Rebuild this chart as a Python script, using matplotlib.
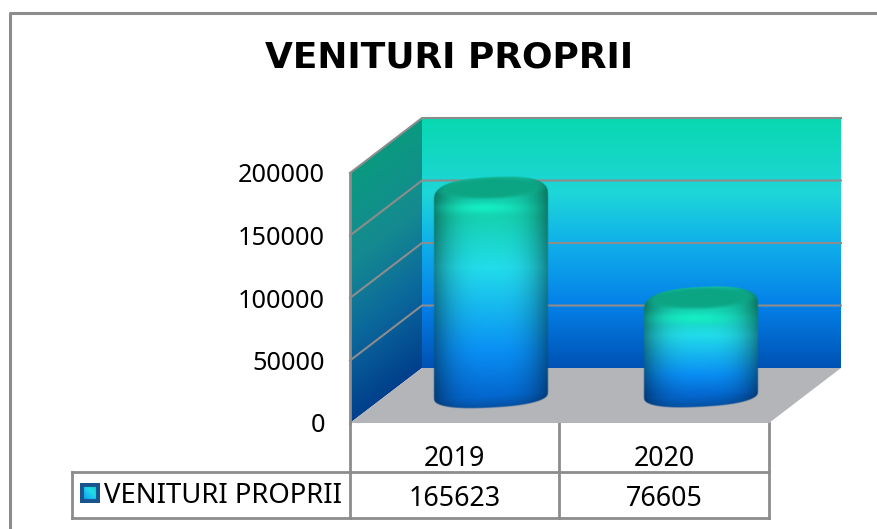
import matplotlib
matplotlib.use("Agg")
import matplotlib.pyplot as plt
import numpy as np
from matplotlib.colors import LinearSegmentedColormap
from matplotlib.patches import Polygon

# DATOS

categorias = ["2019", "2020"]
valores = [165623, 76605]
serie = "VENITURI PROPRII"
y_ticks = [0, 50000, 100000, 150000, 200000]

# CONFIGURACIÓN

W, H = 878, 529
FX0, FX1, FY0, FY1 = 350, 769, 423, 173  # plano frontal en pixeles
PX = (FX1 - FX0) / 2
PY = (FY0 - FY1) / 200000
DX = 72 / PX
DY = 55 / PY
GRIS = "#8c8c8c"
plt.rcParams["font.family"] = ["Noto Sans", "DejaVu Sans"]

cmap_fondo = LinearSegmentedColormap.from_list(
    "fondo",
    [(0, "#08d8b0"), (0.3, "#1ed6d8"), (0.5, "#10b0ea"), (0.75, "#0480e8"), (1, "#0052b4")],
)
cmap_lado = LinearSegmentedColormap.from_list(
    "lado",
    [(0, "#0a9a80"), (0.35, "#158a90"), (0.65, "#0c6a9c"), (1, "#003f8c")],
)
cmap_barra = LinearSegmentedColormap.from_list(
    "barra",
    [(0, "#12c8a4"), (0.15, "#16d2b4"), (0.38, "#22dcea"), (0.78, "#0a90f4"), (1, "#0468d0")],
)

fig = plt.figure(figsize=(W / 100, H / 100), dpi=100)

# capa en pixeles para marco y tabla
fondo = fig.add_axes([0, 0, 1, 1])
fondo.set_xlim(0, W)
fondo.set_ylim(H, 0)
fondo.axis("off")

ax = fig.add_axes([FX0 / W, 1 - FY0 / H, (FX1 - FX0) / W, (FY0 - FY1) / H])
ax.patch.set_alpha(0)
ax.set_xlim(0, 2)
ax.set_ylim(0, 200000)
for lado in ax.spines.values():
    lado.set_visible(False)
ax.set_xticks([])
ax.set_yticks(y_ticks)
ax.tick_params(axis="y", length=0, pad=18, labelsize=18.2)


def pared(extent, cmap, z, puntos):
    im = ax.imshow(z, extent=extent, cmap=cmap, aspect="auto", vmin=0, vmax=1,
                   zorder=1, interpolation="bilinear")
    forma = Polygon(puntos, transform=ax.transData, fc="none", ec="none", clip_on=False)
    ax.add_patch(forma)
    im.set_clip_box(fig.bbox)
    im.set_clip_path(forma)


# PAREDES

t = np.linspace(0, 1, 256).reshape(-1, 1)
pared([DX, 2 + DX, DY, 200000 + DY], cmap_fondo, t,
      [(DX, DY), (2 + DX, DY), (2 + DX, 200000 + DY), (DX, 200000 + DY)])

xx, yy = np.meshgrid(np.linspace(0, DX, 80), np.linspace(200000 + DY, 0, 300))
t_lado = np.clip((200000 + (xx / DX) * DY - yy) / 200000, 0, 1)
pared([0, DX, 0, 200000 + DY], cmap_lado, t_lado,
      [(0, 0), (DX, DY), (DX, 200000 + DY), (0, 200000)])

ax.add_patch(Polygon([(0, 0), (DX, DY), (2 + DX, DY), (2, 0)], fc="#b4b5b8", ec="none",
                     zorder=1.5, clip_on=False))

# lineas de division
for v in y_ticks[1:]:
    ax.plot([0, DX, 2 + DX], [v, v + DY, v + DY], color=GRIS, lw=1.5, zorder=2, clip_on=False)
ax.plot([0, 0], [0, 200000], color=GRIS, lw=2, zorder=2, clip_on=False)


# CILINDROS

def cilindro(pos, valor):
    cx = pos + DX / 2
    base = DY / 2
    mitad = 57
    sem = 12
    alto = valor * PY
    xs = np.arange(-mitad - 2, mitad + 2, 0.5) + 0.25
    ys = np.arange(-sem - 6, alto + sem + 8, 0.5) + 0.25
    X, Y = np.meshgrid(xs, ys)
    u = np.clip(X / mitad, -1, 1)
    curva = sem * np.clip(1 - np.abs(u) ** 2.4, 0, 1) ** (1 / 2.4)
    hombro = 20 * np.clip(1 - np.abs(u) ** 2.6, 0, 1) ** (1 / 2.6) - 8
    inclina = 3 * u
    sup = -hombro - inclina
    inf = alto + curva - inclina
    mask = np.clip((Y - sup) + 0.5, 0, 1) * np.clip((inf - Y) + 0.5, 0, 1)
    mask = mask * np.clip((mitad - np.abs(X)) + 0.5, 0, 1)

    rgb = cmap_barra(np.clip(Y / alto, 0, 1))[:, :, :3]
    sombra = 1 - 0.42 * np.abs(u) ** 3
    abajo = 1 - 0.22 * np.clip((Y + inclina - alto) / sem, 0, 1)
    rgb = rgb * (sombra * abajo)[:, :, None]

    # tapa superior y brillo
    d = (X / (mitad * 0.9)) ** 2 + ((Y + inclina * 0.6 + 1) / 10.5) ** 2
    tapa = np.clip((1.3 - d) * 1.5, 0, 1)[:, :, None]
    rgb = rgb * (1 - tapa) + np.array([0.05, 0.65, 0.52]) * tapa
    brillo = np.exp(-((X + 6) / 34) ** 2 - ((Y - 19) / 5.5) ** 2)[:, :, None]
    rgb = rgb * (1 - brillo) + np.array([0.08, 0.93, 0.76]) * brillo

    img = np.dstack([np.clip(rgb, 0, 1), mask])
    ax.imshow(img, extent=[cx + xs[0] / PX, cx + xs[-1] / PX,
                           base + (alto - ys[-1]) / PY, base + (alto - ys[0]) / PY],
              aspect="auto", zorder=3, clip_on=False, interpolation="bilinear")


for i, valor in enumerate(valores):
    cilindro(i + 0.5, valor)

ax.set_xlim(0, 2)
ax.set_ylim(0, 200000)

# MARCO Y TABLA

fondo.plot([10, 10, W], [H, 13, 13], color=GRIS, lw=2.2, clip_on=False)
for xs, ys in [
    ([350, 350], [423, 518]),
    ([559, 559], [423, 518]),
    ([769, 769], [423, 518]),
    ([72, 769], [472, 472]),
    ([72, 769], [518, 518]),
    ([72, 72], [472, 518]),
]:
    fondo.plot(xs, ys, color=GRIS, lw=2, solid_capstyle="projecting")

for x, cat, val in zip([454.5, 664], categorias, valores):
    fondo.text(x, 459, cat, ha="center", va="center", fontsize=19.3)
    fondo.text(x, 499, str(val), ha="center", va="center", fontsize=19.3)
fondo.text(104, 496, serie, ha="left", va="center", fontsize=19.8)

# muestra de la leyenda
sx, sy = 80, 483
v_y, v_x = np.mgrid[0:1:40j, 0:1:40j]
muestra = cmap_barra(np.clip(0.45 + 0.4 * (v_y - v_x), 0, 1))[:, :, :3]
borde = (np.minimum.reduce([v_x, v_y, 1 - v_x, 1 - v_y]) < 0.2)[:, :, None]
muestra = muestra * (1 - borde) + np.array([0.1, 0.33, 0.55]) * borde
fondo.imshow(muestra, extent=[sx, sx + 20, sy + 20, sy], aspect="auto", zorder=2)
fondo.set_xlim(0, W)
fondo.set_ylim(H, 0)

fondo.text(449, 58, serie, ha="center", va="center", fontsize=25.9, fontweight="bold",
           family="DejaVu Sans")

fig.savefig("out.png", dpi=100)
